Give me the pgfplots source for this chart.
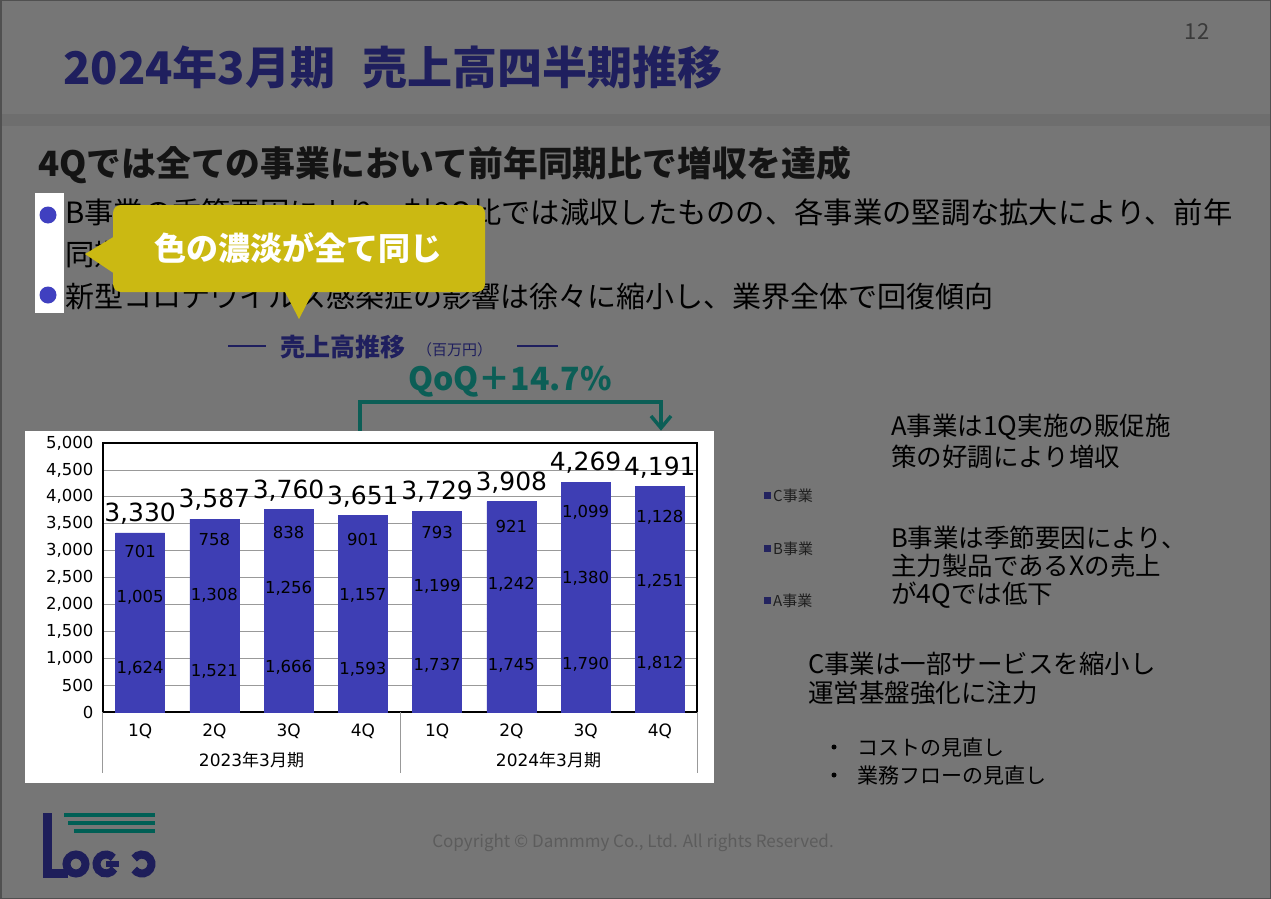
\documentclass[border=0pt]{standalone}
\usepackage{pgfplots}
\pgfplotsset{compat=1.18}
\usepackage{pgfplotstable}
\usepackage{fontspec}
\setmainfont{Noto Sans CJK JP}
\newfontfamily\numfont{DejaVu Sans}
\definecolor{bgray}{RGB}{118,118,118}
\definecolor{bandgray}{RGB}{110,110,110}
\definecolor{navy}{RGB}{31,31,94}
\definecolor{barblue}{RGB}{62,62,180}
\definecolor{teal2}{RGB}{12,94,86}
\definecolor{callout}{RGB}{203,185,18}
\definecolor{dotblue}{RGB}{64,64,192}
\definecolor{legsq}{RGB}{35,35,95}
\definecolor{foot}{RGB}{92,92,92}
\definecolor{pgnum}{RGB}{58,58,58}
\definecolor{logonavy}{RGB}{30,30,90}
\definecolor{logoteal}{RGB}{0,95,85}
\definecolor{bordergray}{RGB}{80,80,80}

\pgfplotstableread{
x A B C T
0 1624 1005 701 3330
1 1521 1308 758 3587
2 1666 1256 838 3760
3 1593 1157 901 3651
4 1737 1199 793 3729
5 1745 1242 921 3908
6 1790 1380 1099 4269
7 1812 1251 1128 4191
}\sales

\newcommand{\fs}[1]{\fontsize{#1}{#1}\selectfont}

\begin{document}
\begin{tikzpicture}[x=1pt,y=1pt]
\path[use as bounding box, fill=bgray] (0,0) rectangle (1271,-899);
\fill[bandgray] (0,-114) rectangle (1271,-126);

% title
\node[anchor=west, inner sep=0, text=navy, font=\fs{45}\bfseries] at (63,-67) {2024年3月期\hspace{0.6em}売上高四半期推移};
\node[inner sep=0, text=pgnum, font=\fs{22}] at (1197,-32) {12};

% heading
\node[anchor=west, inner sep=0, text=black!92, font=\fs{34.8}\bfseries] at (38,-165) {4Qでは全ての事業において前年同期比で増収を達成};

% bullets
\fill[white] (35,-193) rectangle (64,-313);
\fill[dotblue] (48,-215) circle (8.5);
\fill[dotblue] (48,-295) circle (8.5);
\node[anchor=west, inner sep=0, text=black, font=\fs{29.3}] at (65,-214) {B事業の季節要因により、対3Q比では減収したものの、各事業の堅調な拡大により、前年};
\node[anchor=west, inner sep=0, text=black, font=\fs{29.3}] at (65,-254) {同期比で増収};
\node[anchor=west, inner sep=0, text=black, font=\fs{29}] at (65,-296) {新型コロナウイルス感染症の影響は徐々に縮小し、業界全体で回復傾向};

% callout
\fill[callout, rounded corners=8] (113,-205) rectangle (485,-292);
\fill[callout] (115,-236) -- (85,-254) -- (115,-274) -- cycle;
\fill[callout] (284,-290) -- (299,-319) -- (314,-290) -- cycle;
\node[inner sep=0, text=white, font=\fs{32}\bfseries] at (298,-248) {色の濃淡が全て同じ};

% chart title
\draw[navy, line width=1.2] (228,-346) -- (266,-346);
\draw[navy, line width=1.2] (517,-346) -- (558,-346);
\node[anchor=west, inner sep=0, text=navy, font=\fs{25}\bfseries] at (280,-347) {売上高推移};
\node[anchor=west, inner sep=0, text=navy, font=\fs{15}] at (417,-350) {（百万円）};

% QoQ
\node[inner sep=0, text=teal2, font=\fs{32}\bfseries] at (510,-382) {QoQ＋14.7\%};
\draw[teal2, line width=3.5] (360,-431) -- (360,-402) -- (661,-402) -- (661,-427);
\draw[teal2, line width=3.5] (651,-416) -- (661,-428) -- (671,-416);

% chart panel
\fill[white] (25,-431) rectangle (714,-783);

\pgfplotsset{chartbase/.style={
  at={(103pt,-712pt)}, anchor=south west,
  scale only axis, width=594pt, height=269pt,
  xmin=-0.5, xmax=7.5, ymin=0, ymax=5000,
  /pgf/number format/1000 sep={,},
  /pgf/number format/assume math mode=true,
  clip=false,
}}

\begin{axis}[
  chartbase,
  ybar stacked, bar width=49pt,
  axis line style={black, line width=1.3pt},
  ytick={0,500,...,5000},
  ymajorgrids, grid style={draw=black!40, line width=0.8pt},
  xtick={0,...,7}, xticklabels={1Q,2Q,3Q,4Q,1Q,2Q,3Q,4Q},
  major tick length=0pt,
  scaled y ticks=false,
  yticklabel style={font=\numfont\fs{16.5}, text=black, xshift=-6pt},
  xticklabel style={font=\numfont\fs{17}, text=black, anchor=center, yshift=-19pt},
  every node near coord/.append style={anchor=center, font=\numfont\fs{16.5}, text=black},
]
\addplot[fill=barblue, draw=barblue, line width=0.6pt, nodes near coords, point meta=explicit]
  table[x=x, y=A, meta=A] {\sales};
\addplot[fill=barblue, draw=barblue, line width=0.6pt, nodes near coords, point meta=explicit]
  table[x=x, y=B, meta=B] {\sales};
\addplot[fill=barblue, draw=barblue, line width=0.6pt, nodes near coords, point meta=explicit]
  table[x=x, y=C, meta=C] {\sales};

\draw[black!40, line width=1] (axis cs:-0.5,0) -- ++(0pt,-61pt);
\draw[black!40, line width=1] (axis cs:3.5,0) -- ++(0pt,-61pt);
\draw[black!40, line width=1] (axis cs:7.5,0) -- ++(0pt,-61pt);
\node[font=\fs{17}, text=black, inner sep=0, yshift=-48pt] at (axis cs:1.5,0) {{\numfont 2023}年{\numfont 3}月期};
\node[font=\fs{17}, text=black, inner sep=0, yshift=-48pt] at (axis cs:5.5,0) {{\numfont 2024}年{\numfont 3}月期};
\end{axis}

\begin{axis}[chartbase, hide axis]
\addplot[draw=none, mark=none, nodes near coords, point meta=explicit,
  every node near coord/.append style={anchor=south, font=\numfont\fs{25}, text=black, yshift=5pt}]
  table[x=x, y=T, meta=T] {\sales};
\end{axis}

% legend
\fill[legsq] (764,-492) rectangle (771,-499);
\node[anchor=west, inner sep=0, text=black!88, font=\fs{15}] at (773,-495.5) {C事業};
\fill[legsq] (764,-545) rectangle (771,-552);
\node[anchor=west, inner sep=0, text=black!88, font=\fs{15}] at (773,-548.5) {B事業};
\fill[legsq] (764,-597) rectangle (771,-604);
\node[anchor=west, inner sep=0, text=black!88, font=\fs{15}] at (773,-600.5) {A事業};

% right texts
\node[anchor=west, inner sep=0, text=black, font=\fs{25.5}] at (891,-427) {A事業は{\fs{26.5}1Q}実施の販促施};
\node[anchor=west, inner sep=0, text=black, font=\fs{25.5}] at (891,-457) {策の好調により増収};
\node[anchor=west, inner sep=0, text=black, font=\fs{25.5}] at (891,-538) {B事業は季節要因により、};
\node[anchor=west, inner sep=0, text=black, font=\fs{25.5}] at (891,-566) {主力製品である{\fs{26.5}X}の売上};
\node[anchor=west, inner sep=0, text=black, font=\fs{25.5}] at (891,-595) {が{\fs{26.5}4Q}では低下};
\node[anchor=west, inner sep=0, text=black, font=\fs{25.5}] at (808,-664) {C事業は一部サービスを縮小し};
\node[anchor=west, inner sep=0, text=black, font=\fs{25.5}] at (808,-693) {運営基盤強化に注力};
\fill[black] (834,-747) circle (2.5);
\node[anchor=west, inner sep=0, text=black, font=\fs{21}] at (857,-747) {コストの見直し};
\fill[black] (834,-775) circle (2.5);
\node[anchor=west, inner sep=0, text=black, font=\fs{21}] at (857,-775) {業務フローの見直し};

% footer
\node[inner sep=0, text=foot, font=\fs{17}] at (633,-843) {Copyright © Dammmy Co., Ltd. All rights Reserved.};

% logo
\fill[logoteal] (64,-813) rectangle (155,-817);
\fill[logoteal] (68,-821) rectangle (155,-825);
\fill[logoteal] (74,-829) rectangle (155,-833);
\fill[logonavy] (43,-813) rectangle (52,-878);
\fill[logonavy] (43,-869) rectangle (68,-878);
\draw[logonavy, line width=8] (76,-864) circle (9.5);
\draw[logonavy, line width=8] ([shift={(106,-864)}]40:9.5) arc (40:330:9.5);
\fill[logonavy] (106,-861) rectangle (119,-867);
\draw[logonavy, line width=8] ([shift={(142,-864)}]-145:9.5) arc (-145:145:9.5);

% border
\draw[bordergray, line width=1.5] (0.75,-0.75) rectangle (1270.25,-898.25);
\end{tikzpicture}
\end{document}
